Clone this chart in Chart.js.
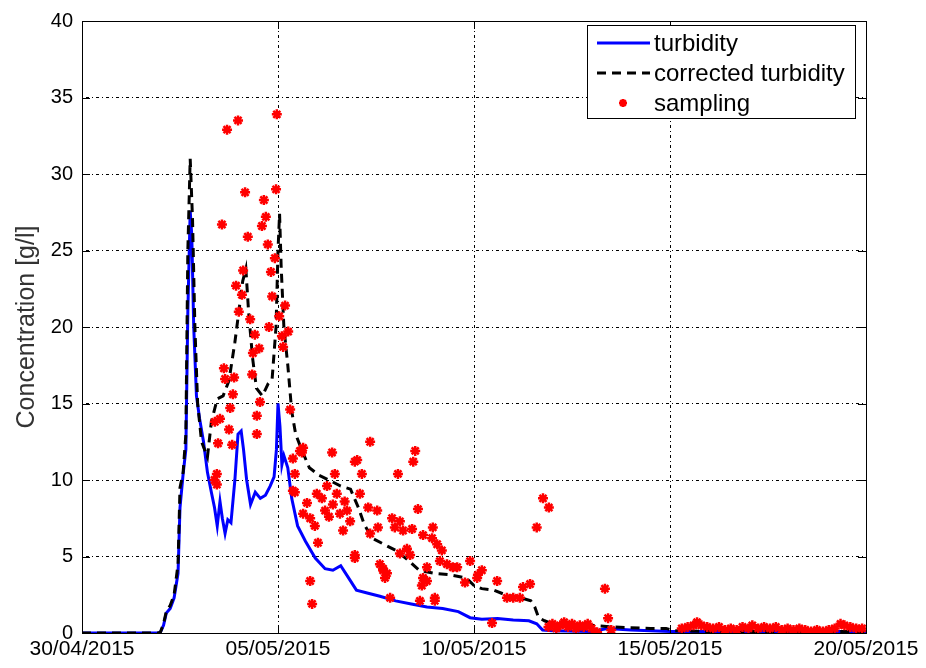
<!DOCTYPE html>
<html>
<head>
<meta charset="utf-8">
<script src="https://cdn.jsdelivr.net/npm/chart.js@4.4.1/dist/chart.umd.min.js"></script>
<style>
  html, body { margin: 0; padding: 0; background: #fff; }
  #wrap { width: 926px; height: 668px; }
</style>
</head>
<body>
<div id="wrap"><canvas id="concChart" width="926" height="668"></canvas></div>
<script>
// days since 30/04/2015
const xTickLabels = ['30/04/2015', '05/05/2015', '10/05/2015', '15/05/2015', '20/05/2015'];
const yTicks = [0, 5, 10, 15, 20, 25, 30, 35, 40];

const turbDays = [0, 1.95, 2.0, 2.08, 2.15, 2.25, 2.35, 2.45, 2.5, 2.58, 2.65, 2.7, 2.76, 2.8, 2.85, 2.92, 3.0, 3.1, 3.2, 3.3,
  3.38, 3.45, 3.52, 3.58, 3.65, 3.72, 3.8, 3.9, 3.98, 4.06, 4.12, 4.2, 4.3, 4.42, 4.55, 4.68, 4.8, 4.9, 4.96, 5.0,
  5.05, 5.1, 5.15, 5.25, 5.35, 5.5, 5.7, 5.95, 6.2, 6.4, 6.6, 6.8, 7.0, 7.3, 7.6, 8.0, 8.4, 8.8, 9.2, 9.6,
  9.9, 10.2, 10.6, 11.0, 11.4, 11.6, 11.75, 12.0, 13.0, 13.4, 14.0, 15.0, 20.0];
const turbVals = [0, 0, 0.05, 0.5, 1.3, 1.6, 2.3, 3.9, 8.2, 10.4, 12, 21, 27.6, 26, 20, 15.5, 14, 12.5, 10.5, 9.2,
  8.2, 7.0, 8.6, 7.5, 6.5, 7.4, 7.2, 10, 13.0, 13.2, 12, 10.0, 8.4, 9.2, 8.8, 9.0, 9.6, 10.2, 12, 15.0,
  13.5, 11.0, 11.6, 10.8, 8.8, 7.0, 6.0, 4.9, 4.2, 4.1, 4.4, 3.6, 2.8, 2.6, 2.4, 2.1, 1.9, 1.7, 1.6, 1.4,
  1.0, 0.9, 0.95, 0.85, 0.8, 0.6, 0.2, 0.15, 0.1, 0.3, 0.2, 0.1, 0.1];

const corrDays = [0, 1.95, 2.0, 2.08, 2.15, 2.25, 2.35, 2.45, 2.5, 2.58, 2.65, 2.7, 2.76, 2.82, 2.88, 2.95, 3.05, 3.2, 3.3, 3.45,
  3.6, 3.75, 3.9, 4.0, 4.1, 4.18, 4.25, 4.35, 4.45, 4.6, 4.75, 4.85, 4.95, 5.0, 5.04, 5.08, 5.15, 5.25, 5.35, 5.45,
  5.6, 5.8, 6.05, 6.3, 6.6, 6.85, 7.05, 7.2, 7.4, 7.7, 8.0, 8.3, 8.6, 9.0, 9.4, 9.8, 10.0, 10.2, 10.5, 10.8,
  11.2, 11.45, 11.55, 11.65, 11.8, 12.0, 12.5, 13.0, 13.5, 14.0, 14.5, 14.9, 15.1, 16, 20];
const corrVals = [0, 0, 0.05, 0.6, 1.4, 1.8, 2.5, 4.5, 9.5, 10.5, 13, 25, 31, 27, 20, 15, 12.5, 11.5, 13.8, 15.3,
  15.5, 16.5, 19, 21, 23, 23.8, 21, 18, 16, 15.5, 16.3, 16.6, 20, 25, 27.4, 24, 20, 17.5, 14.5, 13,
  12, 10.8, 10.3, 10, 9.6, 9.4, 8.2, 7.1, 6.2, 5.8, 5.4, 4.8, 4.1, 3.9, 3.8, 3.6, 3.1, 2.9, 2.8, 2.5,
  2.3, 2.1, 1.7, 1.0, 0.8, 0.6, 0.55, 0.5, 0.4, 0.35, 0.3, 0.3, 0.15, 0.1, 0.1];

const sampDays = [3.70, 3.98, 4.97, 4.16, 4.64, 4.95, 3.57, 4.69, 4.59, 4.23, 4.74, 4.92, 4.11, 4.82, 3.93, 4.08, 4.85, 5.18, 4.00, 5.03,
  4.29, 4.77, 5.26, 5.10, 4.41, 5.13, 4.52, 4.36, 3.62, 4.34, 3.88, 3.65, 3.85, 4.54, 5.31, 3.78, 3.52, 4.46, 3.39, 3.75,
  4.46, 3.47, 3.83, 5.64, 3.44, 3.44, 3.38,
  5.38, 5.56, 5.38, 5.61, 6.38, 7.35, 7.02, 6.96, 6.45, 7.14, 5.43, 5.43, 5.74, 5.99, 6.12, 5.64, 5.82, 5.94, 6.50, 6.58,
  6.76, 6.84, 6.66, 7.09, 7.30, 7.53, 7.55, 7.35, 6.02, 6.96, 6.96, 7.68, 7.60, 5.82, 5.87, 6.2, 6.3, 6.4, 6.7, 6.25,
  8.50, 8.45, 8.06, 8.57, 7.91, 8.11, 7.98, 8.19, 8.42, 8.70, 8.95, 8.93, 9.06, 8.29, 8.11, 8.37, 9.18, 9.13, 9.31, 9.46,
  9.57, 8.80, 8.70, 8.67, 8.80, 8.62, 9.00, 9.00, 9.77, 9.90, 10.10, 10.20, 10.08, 7.68, 7.73, 7.78, 7.86, 10.59, 10.84, 11.00,
  11.17, 11.25, 11.43, 11.76, 11.91, 11.60, 10.46,
  11.9, 12.0, 12.1, 12.2, 12.3, 12.4, 12.5, 12.6, 12.7, 12.8, 12.9, 13.0, 13.14, 13.34, 13.42, 13.5,
  15.3, 15.45, 15.6, 15.69, 15.8, 15.95, 16.1, 16.25, 16.4, 16.55, 16.7, 16.85, 17.0, 17.1, 17.25, 17.4, 17.55, 17.7, 17.85, 18.0,
  18.15, 18.3, 18.45, 18.6, 18.75, 18.9, 19.05, 19.2, 19.35, 19.45, 19.6, 19.75, 19.9];
const sampVals = [32.9, 33.5, 33.9, 28.8, 28.3, 29.0, 26.7, 27.2, 26.6, 25.9, 25.4, 24.5, 23.7, 23.6, 22.7, 22.1, 22.0, 21.4, 21.0, 20.7,
  20.5, 20.0, 19.7, 19.4, 19.5, 18.7, 18.6, 18.3, 17.3, 16.9, 16.7, 16.6, 15.6, 15.1, 14.6, 14.7, 14.0, 14.2, 13.8, 13.3,
  13.0, 12.4, 12.3, 12.1, 10.4, 9.7, 10.0,
  11.4, 11.9, 9.3, 11.8, 11.8, 12.5, 11.3, 11.2, 10.4, 10.4, 10.4, 9.2, 8.5, 9.1, 8.8, 7.8, 7.5, 7.0, 9.1, 7.8,
  8.0, 7.3, 6.7, 9.1, 8.2, 8.0, 6.9, 6.5, 5.9, 4.9, 5.1, 4.1, 4.5, 3.4, 1.9, 8.0, 7.6, 8.4, 8.6, 9.6,
  11.9, 11.2, 10.4, 8.1, 7.5, 7.3, 6.9, 6.7, 6.8, 6.4, 6.9, 6.2, 5.8, 5.5, 5.2, 5.1, 5.4, 4.7, 4.5, 4.3,
  4.3, 4.3, 3.6, 3.1, 3.4, 2.1, 2.1, 2.3, 3.3, 4.7, 3.8, 4.1, 3.6, 4.2, 3.6, 3.9, 2.3, 3.4, 2.3, 2.3,
  2.3, 3.0, 3.2, 8.8, 8.2, 6.9, 0.65,
  0.4, 0.6, 0.3, 0.5, 0.7, 0.4, 0.6, 0.3, 0.5, 0.4, 0.6, 0.3, 0.05, 2.9, 0.97, 0.2,
  0.3, 0.4, 0.5, 0.7, 0.5, 0.4, 0.3, 0.4, 0.2, 0.3, 0.2, 0.4, 0.3, 0.5, 0.3, 0.4, 0.3, 0.4, 0.2, 0.3,
  0.2, 0.3, 0.2, 0.1, 0.2, 0.1, 0.2, 0.3, 0.6, 0.5, 0.4, 0.3, 0.3];

function toPoints(xs, ys) {
    return xs.map(function (x, i) { return { x: x, y: ys[i] }; });
}

const FONT = 'Liberation Sans, Arial, sans-serif';
const GRID_DASH = [1, 3, 3, 3];

// MATLAB style: ticks pointing inward on all four sides of the box
const insideTicks = {
    id: 'insideTicks',
    afterDraw(chart) {
        const { ctx, chartArea: a, scales } = chart;
        ctx.save();
        ctx.strokeStyle = '#000';
        ctx.lineWidth = 1;
        ctx.beginPath();
        scales.y.ticks.forEach(function (t) {
            const y = Math.round(scales.y.getPixelForValue(t.value)) + 0.5;
            ctx.moveTo(a.left, y); ctx.lineTo(a.left + 8, y);
            ctx.moveTo(a.right, y); ctx.lineTo(a.right - 8, y);
        });
        scales.x.ticks.forEach(function (t) {
            const x = Math.round(scales.x.getPixelForValue(t.value)) + 0.5;
            ctx.moveTo(x, a.bottom); ctx.lineTo(x, a.bottom - 8);
            ctx.moveTo(x, a.top); ctx.lineTo(x, a.top + 8);
        });
        ctx.stroke();
        ctx.strokeRect(Math.round(a.left) + 0.5, Math.round(a.top) + 0.5,
            Math.round(a.right - a.left), Math.round(a.bottom - a.top));
        ctx.restore();
    }
};

function drawStar(ctx, x, y, r) {
    const d = r * Math.SQRT1_2;
    ctx.beginPath();
    ctx.moveTo(x - r, y); ctx.lineTo(x + r, y);
    ctx.moveTo(x, y - r); ctx.lineTo(x, y + r);
    ctx.moveTo(x - d, y - d); ctx.lineTo(x + d, y + d);
    ctx.moveTo(x - d, y + d); ctx.lineTo(x + d, y - d);
    ctx.stroke();
}

// legend box inside the axes, top right
const boxLegend = {
    id: 'boxLegend',
    afterDraw(chart) {
        const ctx = chart.ctx;
        const ds = chart.data.datasets;
        const left = 587, top = 25, w = 268, h = 93;
        ctx.save();
        ctx.fillStyle = '#fff';
        ctx.fillRect(left, top, w, h);
        ctx.strokeStyle = '#000';
        ctx.lineWidth = 1;
        ctx.strokeRect(left + 0.5, top + 0.5, w, h);
        ctx.font = '24px ' + FONT;
        ctx.textBaseline = 'middle';
        ds.forEach(function (d, i) {
            const y = top + 18 + i * 30;
            ctx.save();
            if (d.showLine) {
                ctx.strokeStyle = d.borderColor;
                ctx.lineWidth = d.borderWidth;
                ctx.setLineDash(d.borderDash || []);
                ctx.beginPath();
                ctx.moveTo(left + 10, y); ctx.lineTo(left + 63, y);
                ctx.stroke();
            } else {
                ctx.strokeStyle = d.pointBorderColor;
                ctx.lineWidth = 2.5;
                drawStar(ctx, left + 36, y, 4);
            }
            ctx.restore();
            ctx.fillStyle = '#000';
            ctx.fillText(d.label, left + 67, y + 1);
        });
        ctx.restore();
    }
};

document.addEventListener('DOMContentLoaded', function () {
    const ctx = document.getElementById('concChart');
    new Chart(ctx, {
        type: 'scatter',
        data: {
            datasets: [{
                label: 'turbidity',
                data: toPoints(turbDays, turbVals),
                showLine: true,
                borderColor: '#0000ff',
                borderWidth: 3,
                pointRadius: 0,
                order: 2
            }, {
                label: 'corrected turbidity',
                data: toPoints(corrDays, corrVals),
                showLine: true,
                borderColor: '#000000',
                borderWidth: 3,
                borderDash: [9, 6],
                pointRadius: 0,
                order: 1
            }, {
                label: 'sampling',
                data: toPoints(sampDays, sampVals),
                showLine: false,
                pointStyle: 'star',
                pointRadius: 5,
                pointBorderWidth: 2.5,
                pointBorderColor: '#ff0000',
                pointBackgroundColor: '#ff0000',
                order: 0
            }]
        },
        options: {
            responsive: false,
            animation: false,
            layout: { padding: { top: 17, right: 60, left: 0, bottom: 0 } },
            plugins: {
                legend: { display: false },
                tooltip: { enabled: false }
            },
            scales: {
                x: {
                    type: 'linear',
                    min: 0,
                    max: 20,
                    afterFit: function (s) { s.height = 35; },
                    afterBuildTicks: function (s) {
                        s.ticks = xTickLabels.map(function (_, i) { return { value: i * 5 }; });
                    },
                    ticks: {
                        autoSkip: false,
                        maxRotation: 0,
                        padding: 4,
                        color: '#000',
                        font: { family: FONT, size: 21 },
                        callback: function (v) { return xTickLabels[Math.round(v / 5)]; }
                    },
                    grid: {
                        color: '#000',
                        lineWidth: 1,
                        drawTicks: false
                    },
                    border: { display: false, dash: GRID_DASH }
                },
                y: {
                    min: 0,
                    max: 40,
                    afterFit: function (s) { s.width = 82; },
                    afterBuildTicks: function (s) {
                        s.ticks = yTicks.map(function (v) { return { value: v }; });
                    },
                    title: {
                        display: true,
                        text: 'Concentration [g/l]',
                        color: '#333',
                        font: { family: FONT, size: 25 },
                        padding: { top: 12, bottom: 0 }
                    },
                    ticks: {
                        padding: 9,
                        color: '#000',
                        font: { family: FONT, size: 20 }
                    },
                    grid: {
                        color: '#000',
                        lineWidth: 1,
                        drawTicks: false
                    },
                    border: { display: false, dash: GRID_DASH }
                }
            }
        },
        plugins: [insideTicks, boxLegend]
    });
});
</script>
</body>
</html>
